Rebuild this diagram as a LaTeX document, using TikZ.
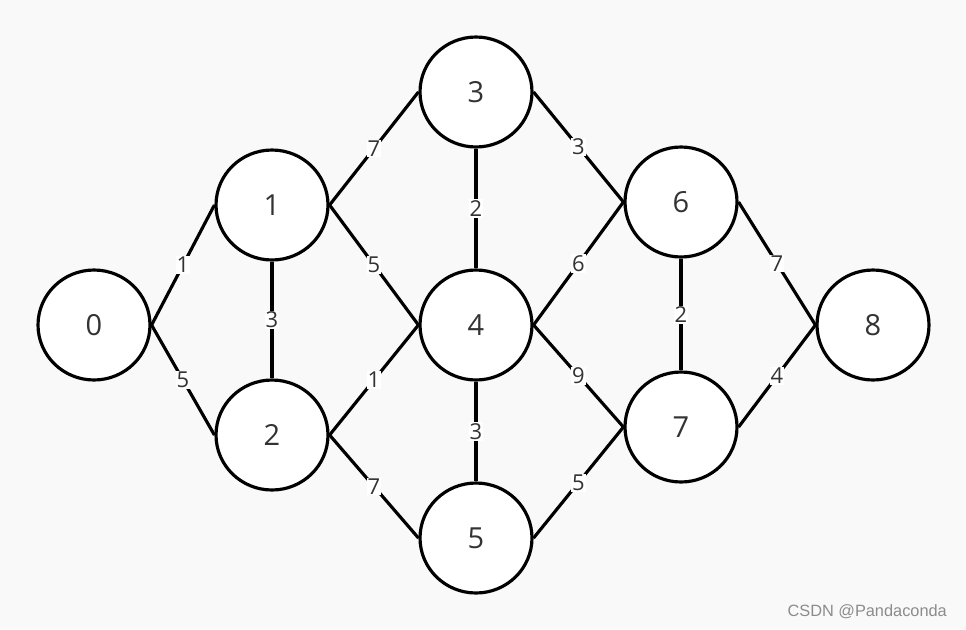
\documentclass[tikz,border=0pt]{standalone}
\usepackage{fontspec}
\setmainfont{Open Sans}
\newfontfamily\markfont{Liberation Sans}
\usetikzlibrary{shapes.geometric}
\definecolor{bgcol}{HTML}{F9F9F9}
\definecolor{txtcol}{HTML}{333333}
\tikzset{
  vertex/.style={ellipse, draw=black, line width=1.8pt, fill=white, minimum width=2.24cm, minimum height=2.2cm, inner sep=0pt, text=txtcol, font=\fontsize{16.5}{16.5}\selectfont},
  edge/.style={line width=1.8pt, black},
  weight/.style={fill=white, inner sep=0.6pt, text=txtcol, font=\fontsize{12.5}{12.5}\selectfont}
}
\begin{document}
\begin{tikzpicture}[x=0.02cm, y=-0.02cm]

    % Hintergrund
    \fill[bgcol] (0,0) rectangle (966,629);
    \useasboundingbox (0,0) rectangle (966,629);

    % Knoten
    \node[vertex] (n0) at (94,325) {0};
    \node[vertex] (n1) at (272,205) {1};
    \node[vertex] (n2) at (272,435) {2};
    \node[vertex] (n3) at (476,92) {3};
    \node[vertex] (n4) at (476,325) {4};
    \node[vertex] (n5) at (476,538) {5};
    \node[vertex] (n6) at (681,202) {6};
    \node[vertex] (n7) at (681,427) {7};
    \node[vertex] (n8) at (873,325) {8};

    % Kanten mit Gewichten
    \foreach \a/\b/\w in {0/1/1, 0/2/5, 1/3/7, 1/4/5, 2/4/1, 2/5/7, 3/6/3, 4/6/6, 4/7/9, 5/7/5, 6/8/7, 7/8/4} {
        \draw[edge] (n\a.east) -- node[weight] {\w} (n\b.west);
    }
    \foreach \a/\b/\w in {1/2/3, 3/4/2, 4/5/3, 6/7/2} {
        \draw[edge] (n\a.south) -- node[weight] {\w} (n\b.north);
    }

    % Wasserzeichen
    \node[anchor=east, text=black!45, font=\markfont\fontsize{9.3}{9.3}\selectfont] (mark) at (953,612) {CSDN @Pandaconda};

\end{tikzpicture}
\end{document}
